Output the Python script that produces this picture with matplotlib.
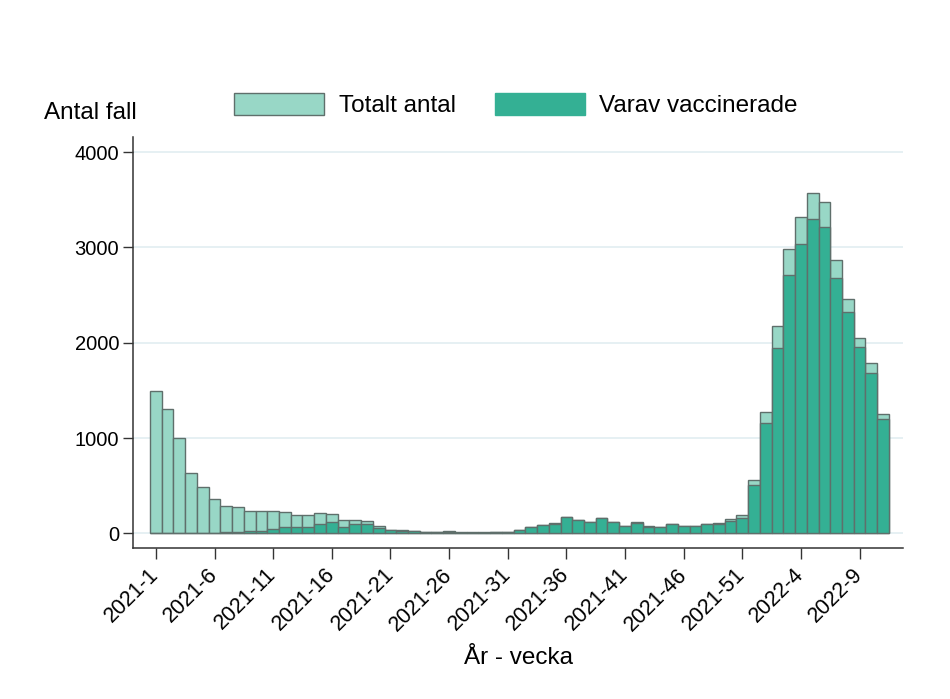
import matplotlib
matplotlib.use("Agg")
import matplotlib.pyplot as plt
from matplotlib.patches import Patch
import numpy as np

plt.rcParams['font.family'] = ['Liberation Sans', 'DejaVu Sans']

# Veckor: 2021-1 .. 2021-52, 2022-1 .. 2022-11
weeks = [f"2021-{w}" for w in range(1, 53)] + [f"2022-{w}" for w in range(1, 12)]

totalt = [1490, 1305, 1000, 635, 490, 360, 290, 275, 230, 230, 235, 222, 190, 188, 215, 200,
          140, 140, 133, 80, 38, 35, 25,
          14, 14, 20, 10, 10, 10, 14, 17, 31, 63, 91, 103,
          175, 140, 115, 165, 115, 77, 115, 72, 66, 100, 78, 78, 100, 110, 145, 188,
          560, 1270, 2180, 2985, 3325, 3575, 3480, 2870, 2460, 2055, 1785, 1252]

vaccinerade = [2, 2, 3, 3, 4, 6, 18, 12, 25, 25, 40, 70, 70, 62, 100, 122,
               68, 95, 100, 60, 30, 28, 20,
               12, 12, 17, 5, 5, 6, 12, 15, 30, 62, 90, 102,
               172, 138, 113, 162, 113, 75, 112, 70, 64, 98, 76, 76, 97, 98, 128, 157,
               507, 1154, 1948, 2708, 3033, 3295, 3218, 2676, 2326, 1952, 1686, 1196]

tick_step = 5
c_tot = "#98d7c6"
c_vac = "#34b094"
edge = "#5f6f6b"

fig = plt.figure(figsize=(9.5, 6.99), dpi=100)
ax = fig.add_axes([0.14, 0.216, 0.8105, 0.588])

x = np.arange(len(weeks))
ax.bar(x, totalt, width=1.0, color=c_tot, edgecolor=edge, linewidth=1.0, zorder=2)
ax.bar(x, vaccinerade, width=1.0, color=c_vac, edgecolor=edge, linewidth=1.0, zorder=3)

ax.set_xlim(-1.95, 63.7)
ax.set_ylim(-155, 4160)
ax.set_yticks([0, 1000, 2000, 3000, 4000])
ax.yaxis.grid(True, color="#e4eff2", linewidth=1.3, zorder=0)
ax.set_axisbelow(True)

ax.set_xticks(x[::tick_step])
ax.set_xticklabels(weeks[::tick_step], rotation=45, ha="right", va="center",
                   rotation_mode="anchor", fontsize=15.5)
ax.tick_params(axis="y", labelsize=14.5, length=7, width=1, color="#333333", pad=3)
ax.tick_params(axis="x", length=8, width=1, color="#333333", pad=9)

for s in ["top", "right"]:
    ax.spines[s].set_visible(False)
for s in ["left", "bottom"]:
    ax.spines[s].set_color("#333333")
    ax.spines[s].set_linewidth(1.1)

fig.text(44 / 950, 1 - 113 / 699, "Antal fall", fontsize=17.5, va="center", ha="left")
fig.text(518 / 950, 1 - 658 / 699, "År - vecka", fontsize=17.5, va="center", ha="center")

handles = [Patch(facecolor=c_tot, edgecolor=edge, linewidth=1.0, label="Totalt antal"),
           Patch(facecolor=c_vac, edgecolor=c_vac, linewidth=1.0, label="Varav vaccinerade")]
fig.legend(handles=handles, loc="center", bbox_to_anchor=(516 / 950, 1 - 105 / 699),
           ncol=2, frameon=False, fontsize=17.5, handlelength=3.7, handleheight=1.0,
           handletextpad=0.6, columnspacing=1.6, borderpad=0.2)

fig.savefig("out.png", dpi=100, facecolor="white")
